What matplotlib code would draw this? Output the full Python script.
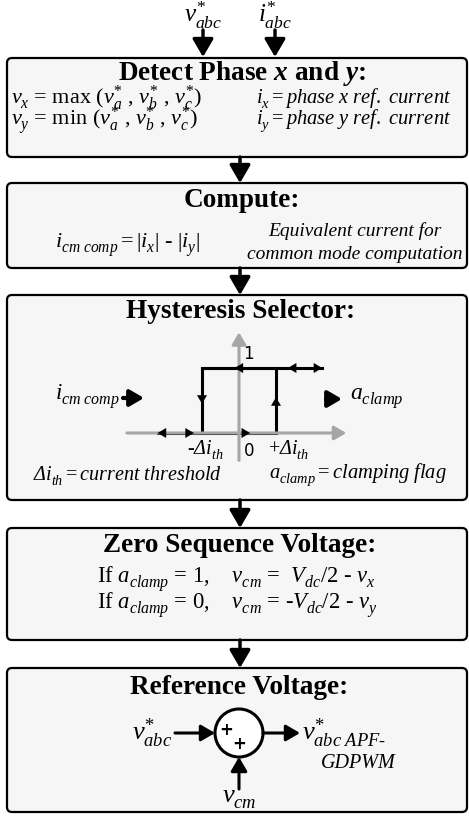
import matplotlib
matplotlib.use("Agg")
import matplotlib.pyplot as plt
import matplotlib._mathtext as mtx
from matplotlib.patches import FancyBboxPatch, Circle

plt.rcParams["font.family"] = ["Liberation Serif", "DejaVu Serif"]
plt.rcParams["mathtext.fontset"] = "custom"
plt.rcParams["mathtext.rm"] = "Liberation Serif"
plt.rcParams["mathtext.it"] = "Liberation Serif:italic"
plt.rcParams["mathtext.bf"] = "Liberation Serif:bold"
plt.rcParams["mathtext.bfit"] = "Liberation Serif:italic:bold"
plt.rcParams["mathtext.cal"] = "Liberation Serif:italic"

# drop subscripts a bit lower, like the original typesetting
mtx.FontConstantsBase.sub1 = 0.5
mtx.FontConstantsBase.sub2 = 0.6

# text content of the flowchart
inputs = [r"$v^{*}_{abc}$", r"$i^{*}_{abc}$"]
titles = [r"Detect Phase $\mathbfit{x}$ and $\mathbfit{y}$:", "Compute:",
          "Hysteresis Selector:", "Zero Sequence Voltage:", "Reference Voltage:"]
detect_left = [r"$v_x$ = max ($v^{*}_{a}$ , $v^{*}_{b}$ , $v^{*}_{c}$)",
               r"$v_y$ = min ($v^{*}_{a}$ , $v^{*}_{b}$ , $v^{*}_{c}$)"]
detect_right = [r"$i_x = \mathit{phase\ x\ ref.\ current}$",
                r"$i_y = \mathit{phase\ y\ ref.\ current}$"]
compute_eq = r"$i_{cm\ comp} = |i_x|$ - $|i_y|$"
compute_note = ["Equivalent current for", "common mode computation"]
hyst_in = r"$i_{cm\ comp}$"
hyst_out = r"$a_{clamp}$"
hyst_ticks = [r"-$\mathcal{\Delta}i_{th}$", "0", r"$+\mathcal{\Delta}i_{th}$"]
hyst_notes = [r"$\mathcal{\Delta}i_{th} = \mathit{current\ threshold}$",
              r"$a_{clamp} = \mathit{clamping\ flag}$"]
zero_seq = [r"If $a_{clamp}$ = 1,    $v_{cm}$ =  $V_{dc}$/2 - $v_x$",
            r"If $a_{clamp}$ = 0,    $v_{cm}$ = -$V_{dc}$/2 - $v_y$"]
ref_in = r"$v^{*}_{abc}$"
ref_cm = r"$v_{cm}$"
ref_out = [r"$v^{*}_{abc\ APF‐}$", "GDPWM"]

# hysteresis: threshold and output levels
th = 1.0
lo, hi = 0, 1
left_end, right_end = -2.2, 2.25

# layout (pixels)
W, H = 469, 823
box_top = [58, 183, 295, 528, 668]
box_bot = [157, 268, 500, 640, 812]
box_x0, box_x1 = 7, 467
cx = 240

fig = plt.figure(figsize=(W / 100, H / 100), dpi=100)
ax = fig.add_axes([0, 0, 1, 1])
ax.set_xlim(0, W)
ax.set_ylim(H, 0)
ax.axis("off")


def arrow(a, x0, y0, x1, y1, lw=2.5, ms=18, color="k", hw=0.35, hl=0.6):
    a.annotate("", xy=(x1, y1), xytext=(x0, y0),
               arrowprops=dict(arrowstyle=f"-|>,head_length={hl},head_width={hw}",
                               lw=lw, color=color, shrinkA=0, shrinkB=0,
                               mutation_scale=ms))


for t, b in zip(box_top, box_bot):
    ax.add_patch(FancyBboxPatch((box_x0, t), box_x1 - box_x0, b - t,
                                boxstyle="round,pad=0,rounding_size=5",
                                fc="#f6f6f6", ec="black", lw=1.6))

title_y = [73, 200, 311, 545, 688]
title_x = [242, 242, 240, 240, 239]
for tx, ty, s in zip(title_x, title_y, titles):
    ax.text(tx, ty, s, ha="center", va="center", fontsize=19.6, weight="bold")

# inputs
for x, s in zip([203, 275], inputs):
    ax.text(x, 15, s, ha="center", va="center", fontsize=18)
    arrow(ax, x, 30, x, 57)

# connectors between boxes
for b, t in zip(box_bot[:-1], box_top[1:]):
    arrow(ax, cx, b, cx, t)

# box 1
for y, l, r in zip([98, 121], detect_left, detect_right):
    ax.text(11, y, l, ha="left", va="center", fontsize=16)
    ax.text(256, y, r, ha="left", va="center", fontsize=14.8)

# box 2
ax.text(55, 245, compute_eq, ha="left", va="center", fontsize=16)
for y, s in zip([231, 254], compute_note):
    ax.text(355, y, s, ha="center", va="center", fontsize=14, style="italic")

# box 3 - hysteresis loop in its own axes (units: threshold, level)
ux, uy = 37.0, 65.0
ox, oy = 239.0, 433.0
xl, yl = (-3.3, 3.1), (-0.5, 1.65)
px0, px1 = ox + xl[0] * ux, ox + xl[1] * ux
py0, py1 = oy - yl[1] * uy, oy - yl[0] * uy
hax = fig.add_axes([px0 / W, 1 - py1 / H, (px1 - px0) / W, (py1 - py0) / H])
hax.set_xlim(*xl)
hax.set_ylim(*yl)
hax.axis("off")
hax.patch.set_alpha(0)

gray = "#a6a6a6"
arrow(hax, -3.03, lo, 2.9, lo, lw=2.2, ms=12, color=gray)
arrow(hax, 0, -0.42, 0, 1.55, lw=2.2, ms=12, color=gray)

hax.plot([left_end, th, th, -th, -th], [lo, lo, hi, hi, lo], color="k", lw=2.2,
         solid_joinstyle="miter")
hax.plot([-th, right_end], [hi, hi], color="k", lw=2.2)
# direction heads
heads = [(left_end, lo, -1, 0), (-1.22, lo, 1, 0), (0.3, lo, 1, 0),
         (-0.12, hi, -1, 0), (1.32, hi, -1, 0), (right_end, hi, 1, 0),
         (-th, 0.45, 0, -1), (th, 0.55, 0, 1)]
for x, y, dx, dy in heads:
    arrow(hax, x - dx * 0.05, y - dy * 0.05, x, y, lw=0.1, ms=10)

hax.text(0.12, 1.22, "1", ha="left", va="center", fontsize=12, family="DejaVu Sans")
hax.text(0.12, -0.28, hyst_ticks[1], ha="left", va="center", fontsize=12,
         family="DejaVu Sans")
hax.text(-0.9, -0.26, hyst_ticks[0], ha="center", va="center", fontsize=14.5)
hax.text(1.35, -0.26, hyst_ticks[2], ha="center", va="center", fontsize=14.5)

ax.text(55, 396, hyst_in, ha="left", va="center", fontsize=16.5)
arrow(ax, 123, 398, 144, 398, lw=3, ms=14)
arrow(ax, 326, 399, 342, 399, lw=3, ms=14)
ax.text(350, 398, hyst_out, ha="left", va="center", fontsize=17)

ax.text(33, 475, hyst_notes[0], ha="left", va="center", fontsize=14.5)
ax.text(269, 475, hyst_notes[1], ha="left", va="center", fontsize=14.8)

# box 4
for y, s in zip([579, 605], zero_seq):
    ax.text(97, y, s, ha="left", va="center", fontsize=16.3)

# box 5 - summing junction
sx, sy, r = 239, 733, 24
ax.add_patch(Circle((sx, sy), r, fc="white", ec="k", lw=2.2))
ax.text(sx - 13, sy - 3, "+", ha="center", va="center", fontsize=12,
        weight="bold", family="DejaVu Sans")
ax.text(sx, sy + 11, "+", ha="center", va="center", fontsize=12,
        weight="bold", family="DejaVu Sans")
ax.text(172, 733, ref_in, ha="right", va="center", fontsize=19)
arrow(ax, 175, sy, sx - r, sy, lw=2.2, ms=14)
arrow(ax, sx + r, sy, 300, sy, lw=2.2, ms=14)
ax.text(302, 733, ref_out[0], ha="left", va="center", fontsize=19)
ax.text(358, 763, ref_out[1], ha="center", va="center", fontsize=14.5, style="italic")
arrow(ax, sx, 789, sx, sy + r, lw=2.2, ms=14)
ax.text(sx, 799, ref_cm, ha="center", va="center", fontsize=19)

fig.savefig("out.png", dpi=100)
